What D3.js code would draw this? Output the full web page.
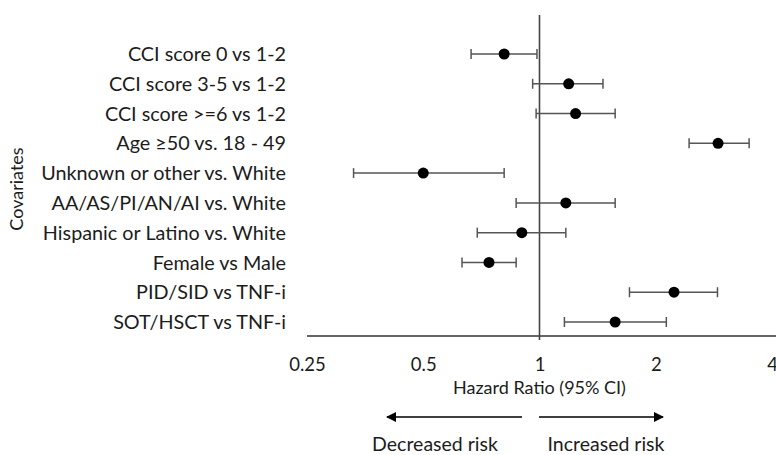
<!DOCTYPE html>
<html>
<head>
<meta charset="utf-8">
<script src="https://cdn.jsdelivr.net/npm/d3@7"></script>
<style>
  body { margin: 0; background: #fff; }
  text { font-family: Lato, "Open Sans", sans-serif; fill: #1c1c1c; }
</style>
</head>
<body>
<div id="chart"></div>
<script>
// Covariates, top to bottom
var covariates = [
  "CCI score 0 vs 1-2",
  "CCI score 3-5 vs 1-2",
  "CCI score >=6 vs 1-2",
  "Age \u226550 vs. 18 - 49",
  "Unknown or other vs. White",
  "AA/AS/PI/AN/AI vs. White",
  "Hispanic or Latino vs. White",
  "Female vs Male",
  "PID/SID vs TNF-i",
  "SOT/HSCT vs TNF-i"
];

// Hazard ratios and 95% CI
var hazardRatio = [0.81, 1.19, 1.24, 2.90, 0.50, 1.17, 0.90, 0.74, 2.23, 1.57];
var ciLower     = [0.665, 0.96, 0.98, 2.44, 0.33, 0.87, 0.69, 0.63, 1.71, 1.16];
var ciUpper     = [0.985, 1.46, 1.57, 3.49, 0.81, 1.57, 1.17, 0.87, 2.89, 2.13];

var tickValues = [0.25, 0.5, 1, 2, 4];
var tickLabels = ["0.25", "0.5", "1", "2", "4"];

var svgWidth = 776;
var svgHeight = 455;

var svg = d3.select("#chart")
  .append("svg")
  .attr("width", svgWidth)
  .attr("height", svgHeight);

var rows = covariates.map(function(c, i) {
  return { name: c, hr: hazardRatio[i], lo: ciLower[i], hi: ciUpper[i] };
});

var xScale = d3.scaleLog().base(2).domain([0.25, 4]).range([307, 772]);
var yScale = d3.scalePoint().domain(covariates).range([54, 322]);

var axisY = 336;

// axis line + reference line at HR = 1
svg.append("line")
  .attr("x1", xScale(0.25)).attr("x2", svgWidth)
  .attr("y1", axisY).attr("y2", axisY)
  .attr("stroke", "#333").attr("stroke-width", 1.5);

svg.append("line")
  .attr("x1", xScale(1)).attr("x2", xScale(1))
  .attr("y1", 15).attr("y2", axisY + 4)
  .attr("stroke", "#444").attr("stroke-width", 1.6);

// tick labels
var bottomAxis = d3.axisBottom(xScale)
  .tickValues(tickValues)
  .tickFormat(function(d, i) { return tickLabels[i]; })
  .tickSize(0)
  .tickPadding(0);

var axisG = svg.append("g")
  .attr("transform", "translate(0," + (axisY + 22) + ")")
  .call(bottomAxis);
axisG.select(".domain").remove();
axisG.selectAll("text")
  .attr("font-size", 18.5)
  .attr("font-family", "Lato, 'Open Sans', sans-serif")
  .attr("fill", "#1c1c1c");

// error bars
var bars = svg.append("g").selectAll("g")
  .data(rows)
  .enter()
  .append("g")
  .attr("stroke", "#555")
  .attr("stroke-width", 1.5);

bars.append("line")
  .attr("x1", d => xScale(d.lo)).attr("x2", d => xScale(d.hi))
  .attr("y1", d => yScale(d.name)).attr("y2", d => yScale(d.name));
bars.append("line")
  .attr("x1", d => xScale(d.lo)).attr("x2", d => xScale(d.lo))
  .attr("y1", d => yScale(d.name) - 5).attr("y2", d => yScale(d.name) + 5);
bars.append("line")
  .attr("x1", d => xScale(d.hi)).attr("x2", d => xScale(d.hi))
  .attr("y1", d => yScale(d.name) - 5).attr("y2", d => yScale(d.name) + 5);

svg.append("g").selectAll("circle")
  .data(rows)
  .enter()
  .append("circle")
  .attr("cx", d => xScale(d.hr))
  .attr("cy", d => yScale(d.name))
  .attr("r", 5.5)
  .attr("fill", "#000");

// covariate labels
svg.append("g").selectAll("text")
  .data(rows)
  .enter()
  .append("text")
  .attr("x", 286)
  .attr("y", d => yScale(d.name))
  .attr("dy", "0.36em")
  .attr("text-anchor", "end")
  .attr("font-size", 19.8)
  .text(d => d.name);

// y-axis title
svg.append("text")
  .attr("transform", "translate(23,189) rotate(-90)")
  .attr("text-anchor", "middle")
  .attr("font-size", 18)
  .text("Covariates");

// x-axis title
svg.append("text")
  .attr("x", xScale(1))
  .attr("y", 394)
  .attr("text-anchor", "middle")
  .attr("font-size", 18)
  .text("Hazard Ratio (95% CI)");

// direction arrows
var defs = svg.append("defs");
defs.append("marker")
  .attr("id", "arrowhead")
  .attr("viewBox", "0 0 10 10")
  .attr("refX", 9).attr("refY", 5)
  .attr("markerWidth", 12).attr("markerHeight", 10)
  .attr("markerUnits", "userSpaceOnUse")
  .attr("orient", "auto")
  .append("path")
  .attr("d", "M0,0 L10,5 L0,10 Z")
  .attr("fill", "#000");

svg.append("line")
  .attr("x1", 522).attr("x2", 387)
  .attr("y1", 417).attr("y2", 417)
  .attr("stroke", "#000").attr("stroke-width", 1.5)
  .attr("marker-end", "url(#arrowhead)");

svg.append("line")
  .attr("x1", 539).attr("x2", 663)
  .attr("y1", 417).attr("y2", 417)
  .attr("stroke", "#000").attr("stroke-width", 1.5)
  .attr("marker-end", "url(#arrowhead)");

svg.append("text")
  .attr("x", 435).attr("y", 451)
  .attr("text-anchor", "middle")
  .attr("font-size", 19.5)
  .text("Decreased risk");

svg.append("text")
  .attr("x", 606).attr("y", 451)
  .attr("text-anchor", "middle")
  .attr("font-size", 19.5)
  .text("Increased risk");
</script>
</body>
</html>
